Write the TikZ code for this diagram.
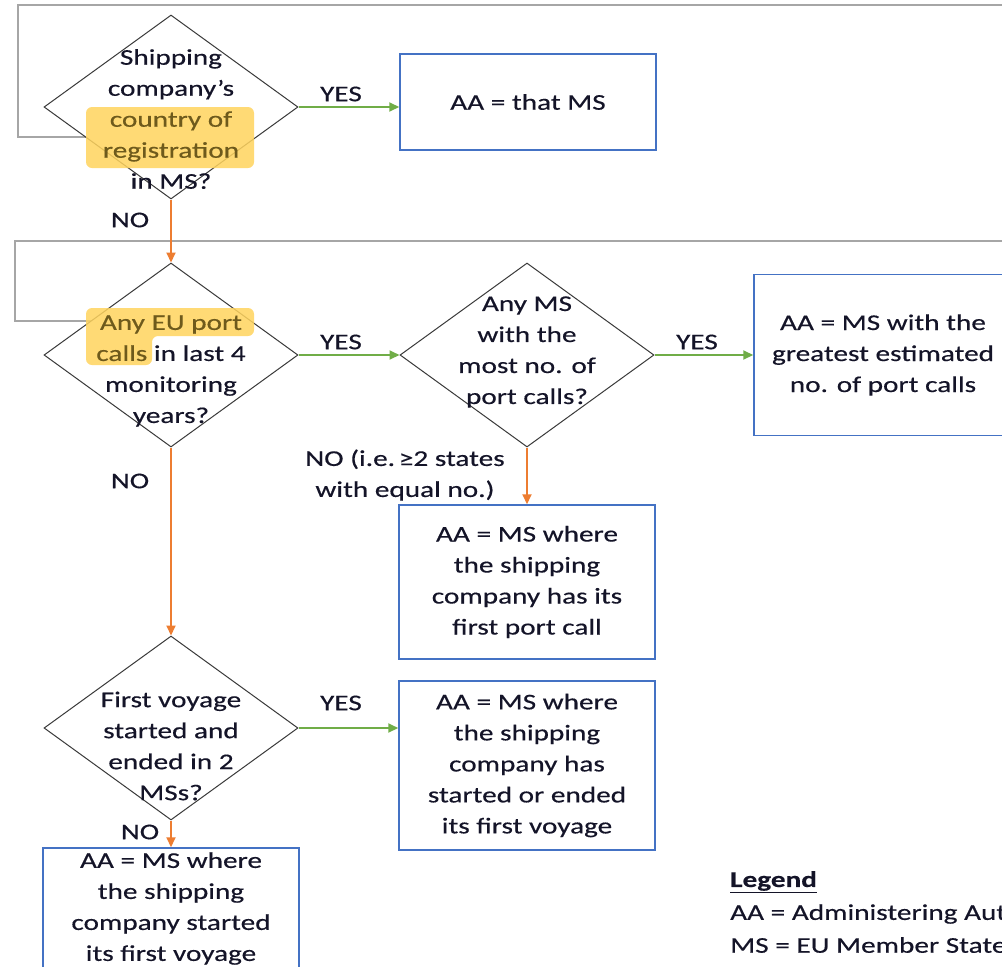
\documentclass[tikz,border=0pt]{standalone}
\usepackage{fontspec}
\setmainfont{Carlito}[FakeStretch=1.3,FakeBold=0.4]
\usetikzlibrary{shapes.geometric,arrows.meta}
\definecolor{framegray}{HTML}{A6A6A6}
\definecolor{boxblue}{HTML}{4472C4}
\definecolor{arrgreen}{HTML}{70AD47}
\definecolor{arrorange}{HTML}{ED7D31}
\definecolor{hilite}{HTML}{FFD45E}
\definecolor{hltext}{HTML}{6E5A1C}
\definecolor{diaedge}{HTML}{3A3A3A}
\definecolor{inktext}{HTML}{141428}
\tikzset{
  framepath/.style={draw=framegray, line width=2pt},
  dia/.style={shape=diamond, draw=diaedge, line width=1pt, fill=white,
    minimum width=254pt, minimum height=184pt, inner sep=0pt},
  txt/.style={align=center, inner sep=0pt, text=inktext,
    font=\fontsize{22.5}{31}\selectfont},
  lbl/.style={txt},
  box/.style={draw=boxblue, line width=1.5pt, fill=white, align=center,
    inner sep=0pt, text=inktext, font=\fontsize{22.5}{31}\selectfont},
  garrow/.style={draw=arrgreen, line width=2pt, -{Triangle[length=10pt,width=9pt]}},
  oarrow/.style={draw=arrorange, line width=2pt, -{Triangle[length=10pt,width=9pt]}},
  hl/.style={fill=hilite, fill opacity=0.85, rounded corners=6pt},
}
\begin{document}
\begin{tikzpicture}[x=1pt,y=-1pt]
\useasboundingbox (0,0) rectangle (1002,967);
\clip (0,0) rectangle (1002,967);
\fill[white] (0,0) rectangle (1002,967);

% gray frames
\draw[framepath] (1012,5) -- (18,5) -- (18,137) -- (100,137);
\draw[framepath] (1012,241) -- (15,241) -- (15,321) -- (100,321);

% decisions
\node[dia] (d1) at (171,107) {};
\node[dia] (d2) at (171,355) {};
\node[dia] (d3) at (527,355) {};
\node[dia] (d4) at (171,728) {};

% highlights (behind text, over diamond edges)
\fill[hl] (86,107) rectangle (254,168);
\fill[hl] (86,308) -- (254,308) -- (254,336) -- (152,336) -- (152,365) -- (86,365) -- cycle;

\node[txt] (t1) at (171,119) {Shipping\\company’s\\\textcolor{hltext}{country of}\\\textcolor{hltext}{registration}\\in MS?};
\node[txt] (t2) at (171,371) {\textcolor{hltext}{Any EU port}\\\textcolor{hltext}{calls} in last 4\\monitoring\\years?};
\node[txt] (t3) at (527,352) {Any MS\\with the\\most no. of\\port calls?};
\node[txt] (t4) at (171,746) {First voyage\\started and\\ended in 2\\MSs?};

% outcome boxes
\node[box, minimum width=256pt, minimum height=96pt] (b1) at (528,102) {AA = that MS};
\node[box, minimum width=258pt, minimum height=161pt] (b2) at (883,355)
  {AA = MS with the\\greatest estimated\\no. of port calls};
\node[box, minimum width=256pt, minimum height=154pt] (b3) at (527,582)
  {AA = MS where\\the shipping\\company has its\\first port call};
\node[box, minimum width=256pt, minimum height=169pt] (b4) at (527,765.5)
  {AA = MS where\\the shipping\\company has\\started or ended\\its first voyage};
\node[box, minimum width=256pt, minimum height=121pt] (b5) at (171,908.5)
  {AA = MS where\\the shipping\\company started\\its first voyage};

% connectors
\draw[garrow] (d1.east) -- (d1.east -| b1.west);
\draw[oarrow] (d1.south) -- (d2.north);
\draw[garrow] (d2.east) -- (d3.west);
\draw[garrow] (d3.east) -- (d3.east -| b2.west);
\draw[oarrow] (d3.south) -- (b3.north);
\draw[oarrow] (d2.south) -- (d4.north);
\draw[garrow] (d4.east) -- (d4.east -| b4.west);
\draw[oarrow] (d4.south) -- (b5.north);

% connector labels
\node[lbl] (l1) at (341,94) {YES};
\node[lbl] (l2) at (130,220) {NO};
\node[lbl] (l3) at (341,342) {YES};
\node[lbl] (l4) at (697,342) {YES};
\node[lbl] (l5) at (405,475) {NO (i.e. \kern-5pt≥2 states\\with equal no.)};
\node[lbl] (l6) at (130,481) {NO};
\node[lbl] (l7) at (341,703) {YES};
\node[lbl] (l8) at (140,832) {NO};

% legend
\node[txt, anchor=west] (lg0) at (730,882) {\textbf{\underline{Legend}}};
\node[txt, anchor=west] (lg1) at (730,914) {AA = Administering Authority};
\node[txt, anchor=west] (lg2) at (730,945) {MS = EU Member State};
\end{tikzpicture}
\end{document}
